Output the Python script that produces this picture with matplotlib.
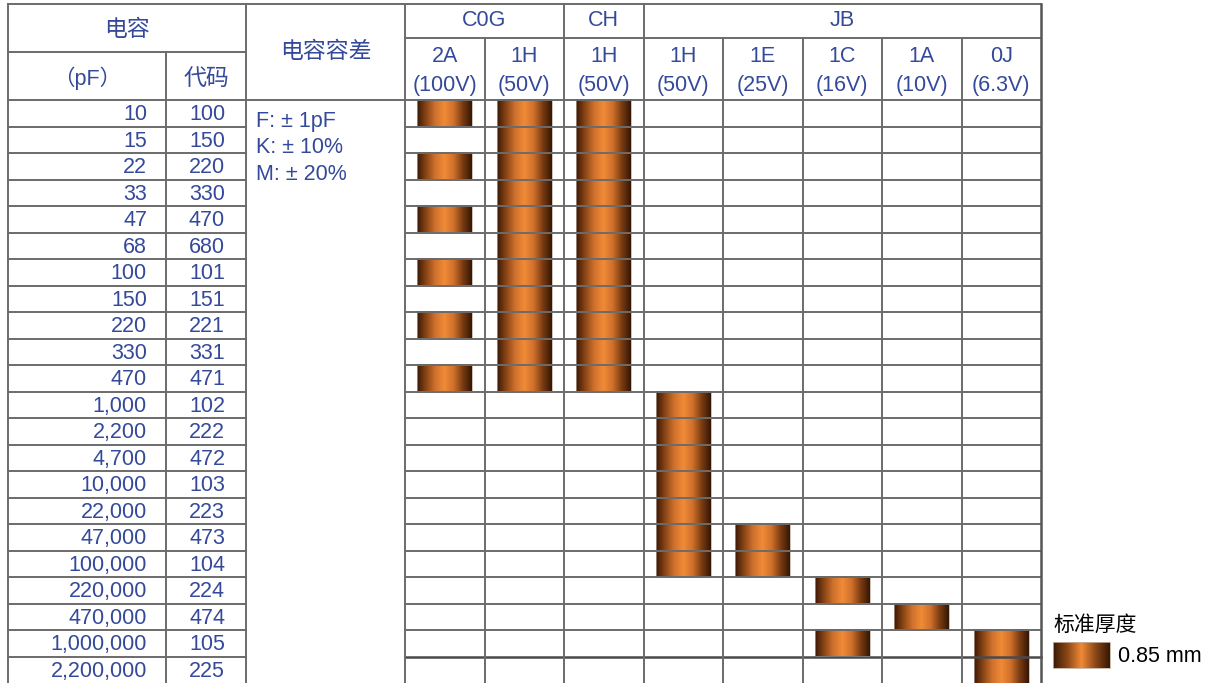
import numpy as np
import matplotlib
matplotlib.use("Agg")
import matplotlib.pyplot as plt
from matplotlib.colors import LinearSegmentedColormap

plt.rcParams['font.family'] = ['Liberation Sans', 'Noto Sans CJK SC', 'DejaVu Sans']

# table data
caps = ["10", "15", "22", "33", "47", "68", "100", "150", "220", "330", "470",
        "1,000", "2,200", "4,700", "10,000", "22,000", "47,000", "100,000",
        "220,000", "470,000", "1,000,000", "2,200,000"]
codes = ["100", "150", "220", "330", "470", "680", "101", "151", "221", "331", "471",
         "102", "222", "472", "103", "223", "473", "104", "224", "474", "105", "225"]
groups = ["C0G", "CH", "JB"]
group_cols = [(0, 2), (2, 3), (3, 8)]
volt_codes = ["2A", "1H", "1H", "1H", "1E", "1C", "1A", "0J"]
volt_labels = ["(100V)", "(50V)", "(50V)", "(50V)", "(25V)", "(16V)", "(10V)", "(6.3V)"]
tolerance = ["F: ± 1pF", "K: ± 10%", "M: ± 20%"]
# rows (index into caps) that have the 0.85 mm thickness, per voltage column
bar_rows = [
    [0, 2, 4, 6, 8, 10],
    list(range(0, 11)),
    list(range(0, 11)),
    list(range(11, 18)),
    [16, 17],
    [18, 20],
    [19],
    [20, 21],
]

blue = "#34499a"
grid = "#6b6b6b"
cmap = LinearSegmentedColormap.from_list(
    "copper_bar", ["#3a1806", "#8a4516", "#d0722e", "#f08a36", "#d0702c", "#7a3c12", "#351605"])
cmap_leg = LinearSegmentedColormap.from_list(
    "copper_leg", ["#3a1806", "#8a4716", "#f08a36", "#8a4716", "#351605"])
grad = np.linspace(0, 1, 256).reshape(1, -1)

fig = plt.figure(figsize=(12.06, 6.83), dpi=100)
ax = fig.add_axes([0, 0, 1, 1])
ax.axis("off")

# geometry (pixels)
x_left, x_cap, x_code, x_tol = 8, 166, 246, 405
col_w = 79.5
y_top, y_mid_left, y_mid_right, y_head = 4, 52, 38, 100
row_h = 26.5
n_rows = len(caps)
cols_x = [x_tol + i * col_w for i in range(len(volt_codes) + 1)]
x_right = cols_x[-1]
bar_w = 55

# bars
for c, rows in enumerate(bar_rows):
    x0 = cols_x[c] + (col_w - bar_w) / 2
    for r in rows:
        y0 = y_head + r * row_h
        ax.imshow(grad, cmap=cmap, aspect="auto", interpolation="bilinear",
                  extent=(x0, x0 + bar_w, y0 + row_h, y0), zorder=1)
        ax.plot([x0, x0, x0 + bar_w, x0 + bar_w], [y0, y0 + row_h, y0 + row_h, y0],
                color="#b8a89c", lw=0.5, zorder=1.5)

# grid lines
lw = 1.4
def hline(y, a, b, color=grid, w=lw):
    ax.plot([a, b], [y, y], color=color, lw=w, zorder=3, solid_capstyle="projecting")
def vline(x, a, b, color=grid, w=lw):
    ax.plot([x, x], [a, b], color=color, lw=w, zorder=3, solid_capstyle="projecting")

y_bot = y_head + n_rows * row_h
hline(y_top, x_left, x_right)
hline(y_mid_left, x_left, x_code)
hline(y_mid_right, x_tol, x_right)
hline(y_head, x_left, x_right)
for k in range(1, n_rows):
    y = y_head + k * row_h
    hline(y, x_left, x_code)
    if k == n_rows - 1:
        hline(y, x_tol, x_right, color="#4a4a4a", w=1.8)
    else:
        hline(y, x_tol, x_right)
vline(x_left, y_top, y_bot)
vline(x_cap, y_mid_left, y_bot)
vline(x_code, y_top, y_bot)
for i, x in enumerate(cols_x):
    full = i in (0, 2, 3, len(cols_x) - 1)
    vline(x, y_top if full else y_mid_right, y_bot,
          color="#555555" if i == len(cols_x) - 1 else grid,
          w=1.8 if i == len(cols_x) - 1 else lw)

# header text
fs = 15.5
fs_cjk = 16.5
ax.text((x_left + x_code) / 2, 29, "电容", color=blue, fontsize=fs_cjk, ha="center", va="center")
ax.text((x_left + x_cap) / 2, 78, "（pF）", color=blue, fontsize=fs, ha="center", va="center")
ax.text((x_cap + x_code) / 2, 78, "代码", color=blue, fontsize=fs_cjk, ha="center", va="center")
ax.text((x_code + x_tol) / 2, 51, "电容容差", color=blue, fontsize=fs_cjk, ha="center", va="center")
for g, (a, b) in zip(groups, group_cols):
    ax.text((cols_x[a] + cols_x[b]) / 2, 20, g, color=blue, fontsize=fs, ha="center", va="center")
for i, (vc, vl) in enumerate(zip(volt_codes, volt_labels)):
    xc = cols_x[i] + col_w / 2
    ax.text(xc, 56, vc, color=blue, fontsize=fs, ha="center", va="center")
    ax.text(xc, 85, vl, color=blue, fontsize=fs, ha="center", va="center")

# row text
for r, (cp, cd) in enumerate(zip(caps, codes)):
    yc = y_head + (r + 0.5) * row_h + 1.5
    ax.text(147, yc, cp, color=blue, fontsize=fs, ha="right", va="center")
    ax.text((x_cap + x_code) / 2 + 1, yc, cd, color=blue, fontsize=fs, ha="center", va="center")
for i, t in enumerate(tolerance):
    ax.text(256, 121 + i * 26.5, t, color=blue, fontsize=fs, ha="left", va="center")

# legend
ax.text(1053, 625, "标准厚度", color="black", fontsize=15, ha="left", va="center")
ax.imshow(grad, cmap=cmap_leg, aspect="auto", interpolation="bilinear",
          extent=(1053, 1110, 668, 642), zorder=1)
ax.plot([1053, 1053, 1110, 1110, 1053], [642, 668, 668, 642, 642], color="#c0b0a0", lw=0.6)
ax.text(1118, 657, "0.85 mm", color="black", fontsize=15.5, ha="left", va="center")

ax.set_xlim(0, 1206)
ax.set_ylim(683, 0)
fig.savefig("out.png", dpi=100)
